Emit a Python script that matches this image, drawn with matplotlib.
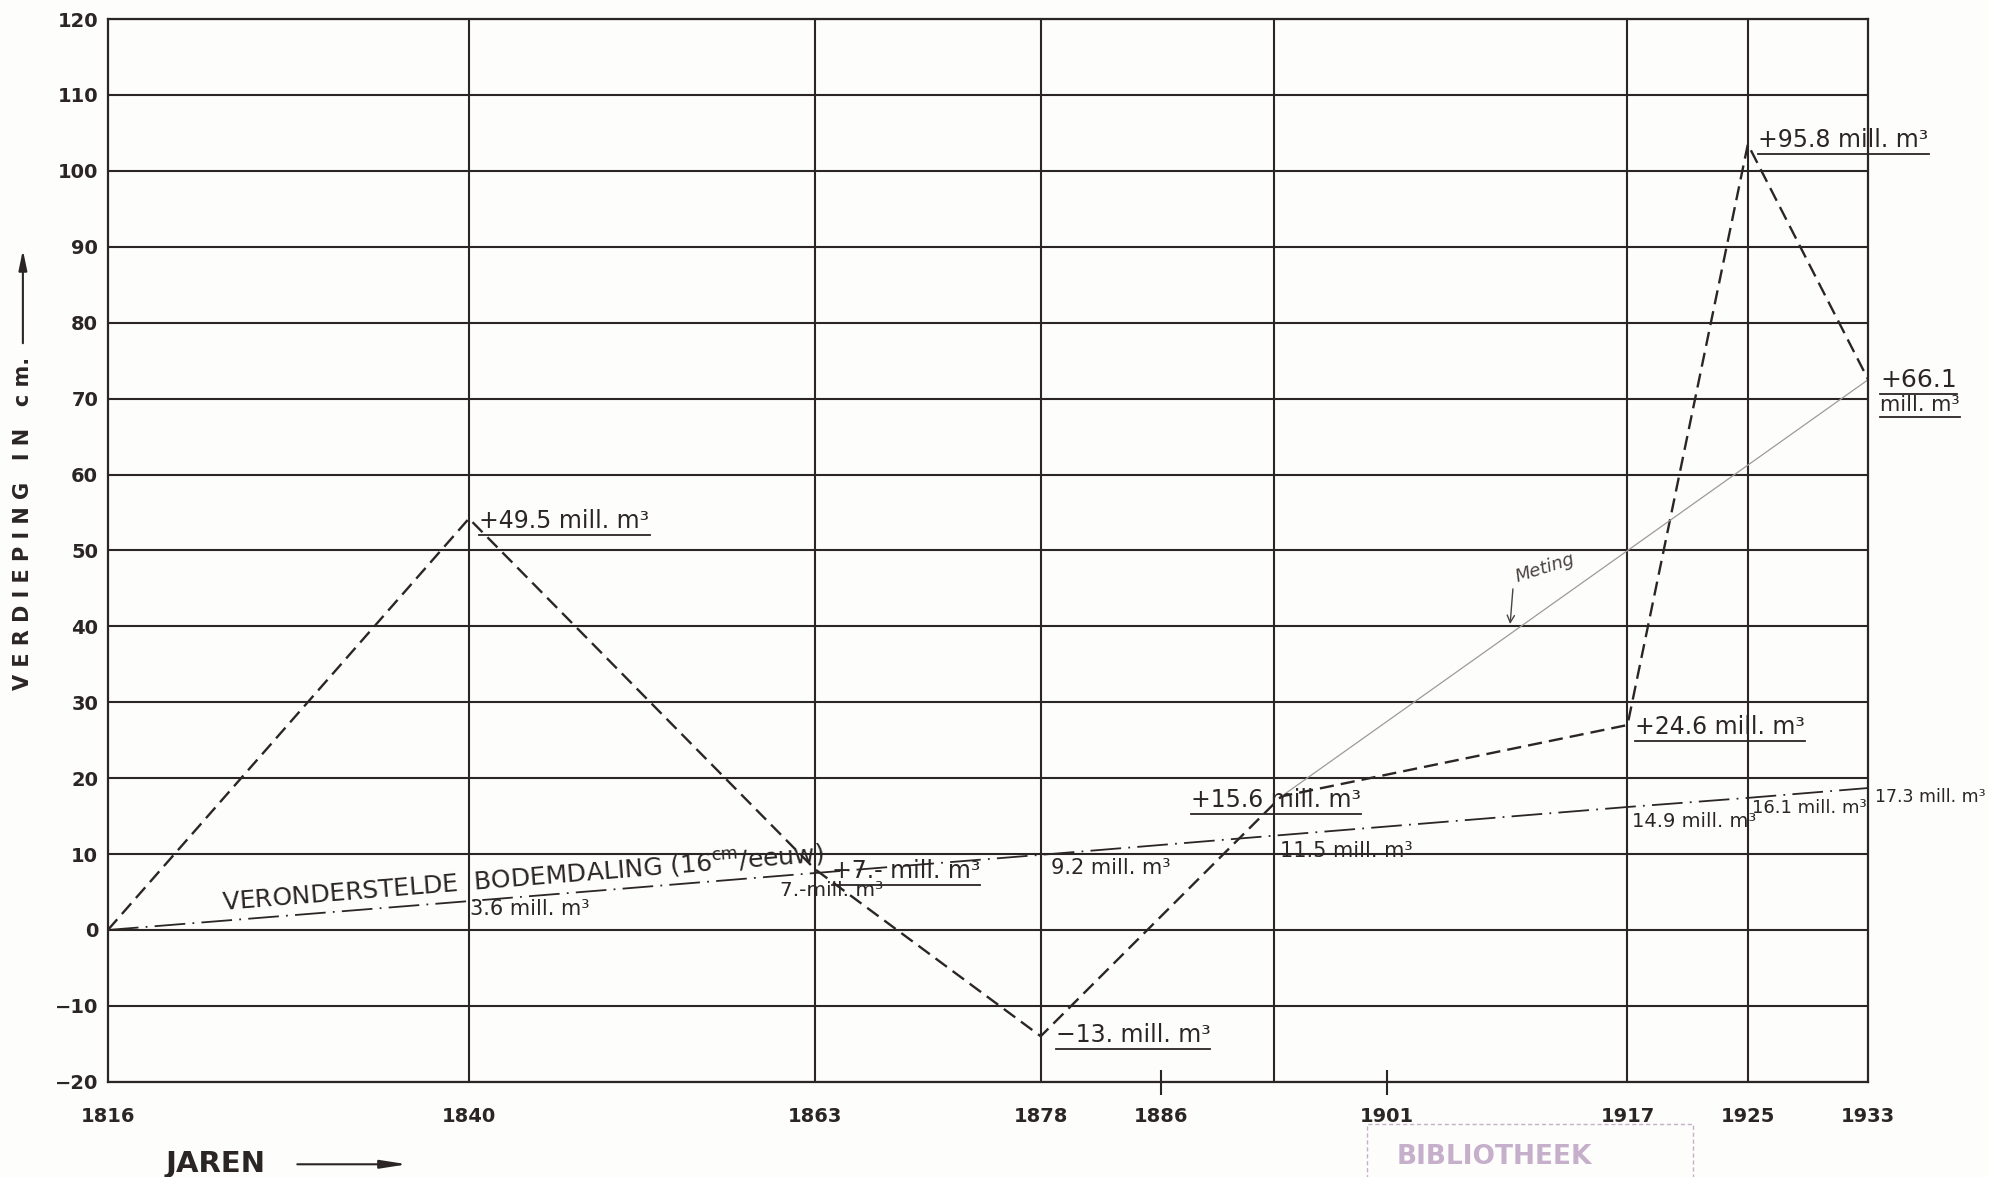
import numpy as np
import matplotlib.pyplot as plt
from matplotlib.lines import Line2D
from matplotlib.patches import Rectangle

# Verdieping (cm) per jaar, gemeten (streeplijn)
years = [1816, 1840, 1863, 1878, 1894, 1917, 1925, 1933]
verdieping = [0, 54.2, 8.0, -14.0, 17.6, 27.0, 103.5, 72.5]

# veronderstelde bodemdaling, 16 cm per eeuw (streep-stip lijn)
bodem_years = [1816, 1840, 1863, 1878, 1894, 1917, 1925, 1933]
bodemdaling = [0, 3.8, 7.5, 9.9, 12.5, 16.2, 17.4, 18.7]

# dunne lijn "Meting"
meting_years = [1894, 1933]
meting = [17.6, 72.5]

grid_years = [1840, 1863, 1878, 1893.5, 1917, 1925]
tick_years = [1816, 1840, 1863, 1878, 1886, 1901, 1917, 1925, 1933]
tick_marks = [1886, 1901]
y_ticks = list(range(-20, 121, 10))

ink = '#2b2623'

fig = plt.figure(figsize=(19.9, 11.77), dpi=100, facecolor='#fdfdfb')
ax = fig.add_axes([0.0542, 0.0809, 0.8846, 0.9029])
ax.set_facecolor('#fdfdfb')
ax.set_xlim(1816, 1933)
ax.set_ylim(-20, 120)

# grid
ax.set_yticks(y_ticks)
ax.grid(axis='y', color=ink, lw=1.5)
ax.vlines(grid_years, -20, 120, color=ink, lw=1.5)
for s in ax.spines.values():
    s.set_color(ink)
    s.set_linewidth(1.6)

ax.set_xticks(tick_years)
ax.set_xticklabels([str(y) for y in tick_years])
ax.tick_params(axis='x', length=18, width=1.5, direction='inout', color=ink,
               labelsize=14, labelcolor=ink, pad=9)
ax.tick_params(axis='y', length=0, labelsize=14, labelcolor=ink, pad=7)
# alleen korte streepjes bij 1886 en 1901
for tk, yr in zip(ax.xaxis.get_major_ticks(), tick_years):
    tk.tick1line.set_visible(yr in tick_marks)
for lab in ax.get_xticklabels() + ax.get_yticklabels():
    lab.set_fontweight('bold')

# lines
ax.plot(years, verdieping, color=ink, lw=1.7, ls=(0, (6, 3)))
ax.plot(bodem_years, bodemdaling, color=ink, lw=1.3, ls=(0, (17, 4, 1, 4)))
ax.plot(meting_years, meting, color='#a09a94', lw=0.9)

# tekst bij de punten: (tekst, x, y, grootte, onderstreept)
labels = [
    ("+49.5 mill. m³", 1840.7, 53.9, 17, True),
    ("+7.- mill. m³", 1864.1, 7.8, 17, True),
    ("7.-mill. m³", 1860.7, 5.2, 14.5, False),
    ("3.6 mill. m³", 1840.05, 2.7, 15, False),
    ("9.2 mill. m³", 1878.7, 8.1, 15, False),
    ("\u221213. mill. m³", 1879.0, -13.8, 17, True),
    ("+15.6 mill. m³", 1888.0, 17.1, 17, True),
    ("11.5 mill. m³", 1893.9, 10.4, 15, False),
    ("+24.6 mill. m³", 1917.5, 26.7, 17, True),
    ("14.9 mill. m³", 1917.3, 14.3, 14, False),
    ("16.1 mill. m³", 1925.3, 16.1, 13, False),
    ("17.3 mill. m³", 1933.45, 17.5, 12.5, False),
    ("+95.8 mill. m³", 1925.7, 104.1, 17, True),
    ("+66.1", 1933.8, 72.4, 18, True),
    ("mill. m³", 1933.8, 69.2, 15, True),
]
under = []
for txt, x, y, size, ul in labels:
    t = ax.text(x, y, txt, fontsize=size, color=ink, ha='left', va='center',
                clip_on=False)
    if ul:
        under.append(t)

# veronderstelde bodemdaling
ax.text(1823.6, 2.6, "VERONDERSTELDE  BODEMDALING (16$^{\\rm cm}$/eeuw)",
        fontsize=18, color=ink, rotation=np.degrees(np.arctan(0.16)),
        transform_rotates_text=True, rotation_mode='anchor',
        ha='left', va='baseline')

# Meting
ax.annotate("Meting", xy=(1909.2, 40.3), xytext=(1909.4, 45.3),
            fontsize=13, style='italic', color='#4a4440', rotation=18,
            ha='left', va='bottom',
            arrowprops=dict(arrowstyle='->', color='#4a4440', lw=1,
                            relpos=(0, 0), shrinkA=0, shrinkB=0))

# as-titels
fig.text(0.0115, 0.555, "V E R D I E P I N G   I N   c m.", rotation=90,
         fontsize=15, fontweight='bold', color=ink, ha='center', va='center')
fig.add_artist(plt.Annotation("", xy=(0.0115, 0.79), xytext=(0.0115, 0.706),
                              xycoords='figure fraction',
                              arrowprops=dict(arrowstyle='-|>,head_length=1.2,head_width=0.25',
                                              color=ink, lw=1.5)))
fig.text(0.083, 0.0108, "JAREN", fontsize=21, fontweight='bold', color=ink,
         ha='left', va='center')
fig.add_artist(plt.Annotation("", xy=(0.206, 0.0108), xytext=(0.148, 0.0108),
                              xycoords='figure fraction',
                              arrowprops=dict(arrowstyle='-|>,head_length=1.6,head_width=0.25',
                                              color=ink, lw=1.5)))

# stempel
fig.add_artist(Rectangle((0.687, -0.01), 0.164, 0.055, transform=fig.transFigure,
                         fill=False, ec='#c4b0c8', lw=1, ls=(0, (3, 2))))
fig.text(0.702, 0.006, "BIBLIOTHEEK", fontsize=19, fontweight='bold',
         color='#b89cc0', alpha=0.8, ha='left', va='bottom')

# onderstrepen
fig.canvas.draw()
r = fig.canvas.get_renderer()
inv = fig.transFigure.inverted()
for t in under:
    bb = t.get_window_extent(r)
    (x0, y0), (x1, _) = inv.transform([(bb.x0, bb.y0 - 2), (bb.x1, bb.y0)])
    fig.add_artist(Line2D([x0, x1], [y0, y0], color=ink, lw=1.3))

fig.savefig('out.png', dpi=100, facecolor=fig.get_facecolor())
